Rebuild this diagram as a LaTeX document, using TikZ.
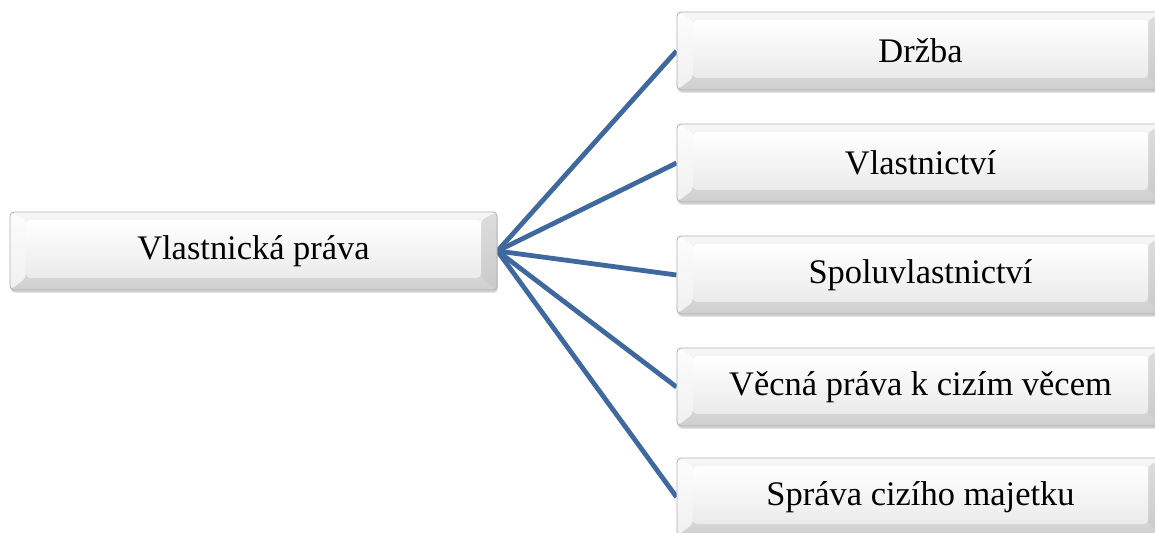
\documentclass[tikz,border=0pt]{standalone}
\usepackage{fontspec}
\setmainfont{Liberation Serif}
\usetikzlibrary{shadows,backgrounds}
\definecolor{linkblue}{RGB}{62,104,158}

\begin{document}
\begin{tikzpicture}[
        x=0.025cm, y=-0.025cm,
        every node/.style={font=\fontsize{24.5}{28}\selectfont},
        box/.style={rectangle, rounded corners=3pt, draw=gray!60, line width=0.6pt,
            minimum width=12.175cm, minimum height=1.95cm, inner sep=0pt,
            top color=gray!6, bottom color=gray!38,
            drop shadow={opacity=0.35, shadow xshift=0.6pt, shadow yshift=-1.8pt},
            path picture={
                % side bevels
                \fill[white, opacity=0.7] (path picture bounding box.north west)
                    -- ([xshift=0.4cm,yshift=-0.2cm]path picture bounding box.north west)
                    -- ([xshift=0.4cm,yshift=0.3cm]path picture bounding box.south west)
                    -- (path picture bounding box.south west) -- cycle;
                \fill[gray!45, opacity=0.5] (path picture bounding box.north east)
                    -- ([xshift=-0.4cm,yshift=-0.2cm]path picture bounding box.north east)
                    -- ([xshift=-0.4cm,yshift=0.3cm]path picture bounding box.south east)
                    -- (path picture bounding box.south east) -- cycle;
                % face
                \shade[top color=white, bottom color=gray!16]
                    ([xshift=0.4cm,yshift=-0.2cm]path picture bounding box.north west)
                    rectangle ([xshift=-0.4cm,yshift=0.3cm]path picture bounding box.south east);
            }},
        link/.style={draw=linkblue, line width=3.4pt}
    ]
        \useasboundingbox (0,0) rectangle (1155,532);
        \clip (0,0) rectangle (1155,532);

% Root and branches
        \node[box] (rights) at (253.5,251) {Vlastnická práva};
        \node[box] (drzba) at (920.5,51) {Držba};
        \node[box] (vlast) at (920.5,163) {Vlastnictví};
        \node[box] (spoluvl) at (920.5,275) {Spoluvlastnictví};
        \node[box] (vecna) at (920.5,387) {Věcná práva k cizím věcem};
        \node[box] (sprava) at (920.5,497) {Správa cizího majetku};

% Connectors
        \begin{scope}[on background layer]
            \foreach \n in {drzba, vlast, spoluvl, vecna, sprava}
                \draw[link] (rights.east) -- (\n.west);
        \end{scope}

    \end{tikzpicture}
\end{document}
